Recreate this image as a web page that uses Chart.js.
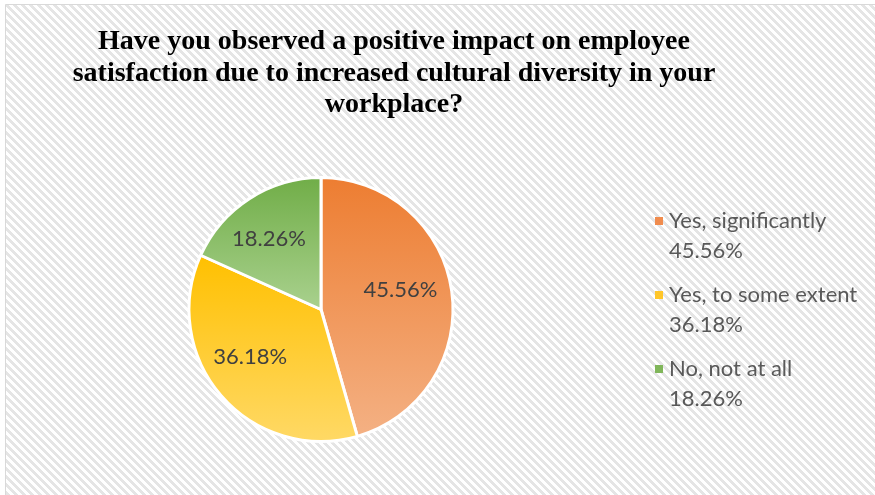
<!DOCTYPE html>
<html>
<head>
<meta charset="utf-8">
<script src="https://cdn.jsdelivr.net/npm/chart.js@4.4.1/dist/chart.umd.min.js"></script>
<style>
  html, body { margin: 0; padding: 0; background: #fff; }
  #wrap { width: 875px; height: 495px; position: relative; }
</style>
</head>
<body>
<div id="wrap"><canvas id="pie" width="875" height="495"></canvas></div>
<script>
// Данные опроса
const titleLines = [
    'Have you observed a positive impact on employee',
    'satisfaction due to increased cultural diversity in your',
    'workplace?'
];
const answers = ['Yes, significantly', 'Yes, to some extent', 'No, not at all'];
const shares = [45.56, 36.18, 18.26];

// Цвета секторов: верх и низ градиента
const topColors = ['#ED7D31', '#FFC000', '#70AD47'];
const bottomColors = ['#F4B184', '#FFD966', '#A9D18E'];
const markColors = ['#F08C4E', '#FFC629', '#80B65A'];

const labelFont = '22px Lato';
const textGrey = '#595959';

// Сдвиг подписей внутри секторов (px)
const labelNudge = [[-3, -8], [-8, -7], [-7, -1]];

// Вертикальные границы сектора, для градиента
function sliceRange(chart, index) {
    const area = chart.chartArea;
    const cx = (area.left + area.right) / 2;
    const cy = (area.top + area.bottom) / 2;
    const r = Math.min(area.right - area.left, area.bottom - area.top) / 2;
    const total = shares.reduce((a, b) => a + b, 0);
    let before = 0;
    for (let k = 0; k < index; k++) before += shares[k];
    const a0 = -Math.PI / 2 + before / total * Math.PI * 2;
    const a1 = a0 + shares[index] / total * Math.PI * 2;
    let minY = cy, maxY = cy;
    for (let s = 0; s <= 60; s++) {
        const a = a0 + (a1 - a0) * s / 60;
        const y = cy + r * Math.sin(a);
        minY = Math.min(minY, y);
        maxY = Math.max(maxY, y);
    }
    return [minY, maxY];
}

function sliceFill(context) {
    const chart = context.chart;
    const i = context.dataIndex;
    if (!chart.chartArea) return topColors[i];
    const [y0, y1] = sliceRange(chart, i);
    const g = chart.ctx.createLinearGradient(0, y0, 0, y1);
    g.addColorStop(0, topColors[i]);
    g.addColorStop(1, bottomColors[i]);
    return g;
}

// Фон со штриховкой и рамкой
let hatch = null;
function makeHatch(ctx) {
    const c = document.createElement('canvas');
    c.width = 8; c.height = 8;
    const p = c.getContext('2d');
    const img = p.createImageData(8, 8);
    for (let y = 0; y < 8; y++) {
        for (let x = 0; x < 8; x++) {
            const on = (((x - y) % 8) + 8) % 8 < 4;
            const v = on ? 229 : 255;
            const o = (y * 8 + x) * 4;
            img.data[o] = v; img.data[o + 1] = v; img.data[o + 2] = v; img.data[o + 3] = 255;
        }
    }
    p.putImageData(img, 0, 0);
    return ctx.createPattern(c, 'repeat');
}

const backdrop = {
    id: 'backdrop',
    beforeDraw(chart) {
        const ctx = chart.ctx;
        if (!hatch) hatch = makeHatch(ctx);
        ctx.save();
        ctx.fillStyle = '#fff';
        ctx.fillRect(0, 0, chart.width, chart.height);
        ctx.fillStyle = hatch;
        ctx.fillRect(6, 5, chart.width - 6, chart.height - 5);
        ctx.strokeStyle = '#d9d9d9';
        ctx.lineWidth = 1;
        ctx.beginPath();
        ctx.moveTo(5.5, chart.height);
        ctx.lineTo(5.5, 4.5);
        ctx.lineTo(chart.width, 4.5);
        ctx.stroke();
        ctx.restore();
    }
};

// Заголовок, подписи долей и легенда
const annotations = {
    id: 'annotations',
    afterDraw(chart) {
        const ctx = chart.ctx;
        ctx.save();

        // заголовок
        ctx.fillStyle = '#000';
        ctx.font = 'bold 28px "Liberation Serif"';
        ctx.textAlign = 'center';
        ctx.textBaseline = 'alphabetic';
        titleLines.forEach((line, k) => {
            ctx.fillText(line, 394, 49 + k * 31.5);
        });

        // подписи внутри секторов
        const arcs = chart.getDatasetMeta(0).data;
        ctx.font = labelFont;
        ctx.fillStyle = '#404040';
        ctx.textBaseline = 'middle';
        arcs.forEach((arc, i) => {
            const p = arc.getProps(['x', 'y', 'startAngle', 'endAngle', 'outerRadius'], true);
            const mid = (p.startAngle + p.endAngle) / 2;
            const d = p.outerRadius * 0.63;
            ctx.fillText(shares[i].toFixed(2) + '%',
                p.x + Math.cos(mid) * d + labelNudge[i][0],
                p.y + Math.sin(mid) * d + labelNudge[i][1]);
        });

        // легенда
        ctx.textAlign = 'left';
        answers.forEach((name, i) => {
            const y = 221 + i * 74;
            ctx.fillStyle = markColors[i];
            ctx.fillRect(655, y - 4, 8, 8);
            ctx.fillStyle = textGrey;
            ctx.fillText(name, 669, y);
            ctx.fillText(shares[i].toFixed(2) + '%', 669, y + 30);
        });

        ctx.restore();
    }
};

new Chart(document.getElementById('pie'), {
    type: 'pie',
    data: {
        labels: answers,
        datasets: [{
            data: shares,
            backgroundColor: sliceFill,
            borderColor: '#ffffff',
            borderWidth: 3,
            hoverOffset: 0
        }]
    },
    options: {
        responsive: false,
        animation: false,
        layout: {
            padding: { left: 187, right: 420, top: 176, bottom: 52 }
        },
        plugins: {
            legend: { display: false },
            title: { display: false },
            tooltip: { enabled: false }
        }
    },
    plugins: [backdrop, annotations]
});
</script>
</body>
</html>
